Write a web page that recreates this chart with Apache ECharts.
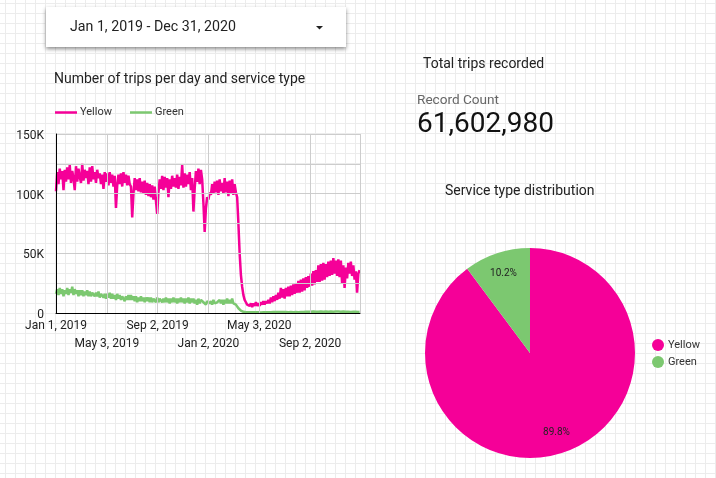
<!DOCTYPE html>
<html><head><meta charset="utf-8">
<script src="https://cdn.jsdelivr.net/npm/echarts@6/dist/echarts.min.js"></script>
<style>
html,body{margin:0;padding:0;width:716px;height:478px;overflow:hidden;background-color:#fff;
background-image:linear-gradient(#ececec 1px,transparent 1px),linear-gradient(90deg,#ececec 1px,transparent 1px);
background-size:10px 10px;background-position:5px 3px;}
#c{width:716px;height:478px}
</style></head><body><div id="c"></div>
<script>
const tickLabels=['Jan 1, 2019','May 3, 2019','Sep 2, 2019','Jan 2, 2020','May 3, 2020','Sep 2, 2020'];
const dayStep=3;
const yellowK=[
102,118,108,121,112,119,103,120,110,122,112,124,109,119,113,103,123,110,121,114,
109,125,111,120,113,119,108,122,110,123,112,118,109,120,113,117,108,116,104,118,
110,117,107,118,109,116,106,115,88,107,116,108,117,106,118,109,116,107,115,108,
106,80,100,113,103,112,102,113,101,110,100,111,99,109,98,108,97,107,95,106,
94,83,101,112,104,115,103,114,105,113,97,112,104,115,106,113,105,116,104,114,
107,124,105,117,106,116,108,118,103,113,85,104,119,110,121,108,120,112,92,68,
88,97,95,101,99,108,100,110,101,111,99,112,102,109,100,113,101,110,98,111,
100,112,99,108,101,97,75,50,32,22,15,11,9,7,8,6,8,5,8,6,
9,6,8,6,9,7,10,7,10,8,11,8,13,9,14,10,15,11,17,12,
21,13,20,12,21,14,22,14,23,15,24,16,25,17,27,17,28,18,29,19,
30,21,31,22,33,23,35,24,36,26,40,26,41,27,42,28,41,30,43,31,
44,32,46,33,44,31,45,30,44,25,40,21,38,29,42,33,43,31,40,28,
35,17,33,36];
const greenK=[
16,20,15,21,16,20,14,19,16,21,15,20,17,22,15,20,16,19,14,19,
15,19,14,18,15,19,14,18,14,17,16,14,17,14,18,13,16,15,13,16,
12,16,13,17,12,16,12,15,11,16,12,15,11,14,13,10,14,11,15,11,
15,11,14,10,14,9,13,10,14,10,13,9,13,10,13,9,13,9,12,11,
9,13,9,12,11,9,12,9,13,9,12,8,12,9,13,9,12,8,12,9,
13,9,12,8,12,9,13,8,12,9,12,8,11,7,12,8,11,12,9,8,
7,10,9,8,10,7,11,8,9,9,10,11,8,11,7,11,8,12,8,11,
8,12,8,8,7,6,4,3,2,1.5,1,.8,.6,.5,.6,.5,.7,.5,.6,.5,
.6,.5,.7,.6,.5,.7,.6,.8,.6,.7,.6,.8,.7,.6,.8,.6,.9,.7,.8,.6,
.8,.7,.9,.7,.8,.9,.7,1,.8,.9,.7,1,.8,.9,.7,1,.8,1.1,.8,.9,
1,.8,1.1,.9,1,.8,1.2,.9,1,.8,1.1,.9,1.2,1,1.1,.9,1.2,1,1.1,.9,
1.2,1,1.1,.9,1.3,1,1.2,.9,1.1,.9,1.2,1,1.1,.9,1,1.2,.9,1.1,1,.8,
1,.8,.9,1];
const pieNames=['Yellow','Green'];
const pieShares=[89.8,10.2];
const colors=['#f50098','#7cc870'];
const font='Roboto';
const toPts=a=>a.map((v,i)=>[i*dayStep,v]);
const txt=(x,y,text,size,fill)=>({type:'text',left:x,top:y,silent:true,style:{text,font:size+'px '+font,fill}});
const rowLabel=(row)=>(v)=>{const k=Math.round(v/122);return (k%2===row&&tickLabels[k])?tickLabels[k]:'';};
const xBase={type:'value',min:0,max:730,interval:122,position:'bottom'};
const chart=echarts.init(document.getElementById('c'),null,{renderer:'canvas'});
chart.setOption({
 animation:false,backgroundColor:'transparent',textStyle:{fontFamily:font},
 color:colors,
 grid:{left:56,top:134,right:356,bottom:165},
 xAxis:[
  {...xBase,z:5,
   axisLine:{show:true,onZero:false,lineStyle:{color:'#000',width:1}},axisTick:{show:false},
   splitLine:{show:true,showMinLine:false,lineStyle:{color:'#cccccc',width:1}},
   axisLabel:{color:'#222',fontSize:12,fontFamily:font,margin:7,showMinLabel:true,showMaxLabel:false,hideOverlap:false,formatter:rowLabel(0)}},
  {...xBase,
   axisLine:{show:false},axisTick:{show:false},splitLine:{show:false},
   axisLabel:{color:'#222',fontSize:12,fontFamily:font,margin:25,showMinLabel:false,showMaxLabel:false,hideOverlap:false,formatter:rowLabel(1)}}
 ],
 yAxis:{type:'value',min:0,max:150,interval:50,z:5,
  axisLine:{show:true,lineStyle:{color:'#000',width:1}},axisTick:{show:false},
  splitLine:{show:true,showMinLine:false,lineStyle:{color:'#cccccc',width:1}},
  minorTick:{show:false,splitNumber:2},minorSplitLine:{show:true,lineStyle:{color:'#cccccc',width:1}},
  axisLabel:{margin:12,showMinLabel:true,formatter:v=>'{a|'+(v===0?'0':v+'K')+'}',
   rich:{a:{color:'#222',fontSize:12,fontFamily:font,height:16,lineHeight:12,verticalAlign:'top'}}}},
 legend:[{left:50,top:102,itemWidth:22,itemHeight:2.5,itemGap:18,icon:'rect',data:['Yellow','Green'],selectedMode:false,
   textStyle:{color:'#333',fontSize:11,fontFamily:font,padding:[0,0,0,-2]}},
  {left:647,top:334,orient:'vertical',itemWidth:12,itemHeight:12,itemGap:5,icon:'circle',data:['Yellow','Green'],selectedMode:false,
   textStyle:{color:'#333',fontSize:11,fontFamily:font,padding:[0,0,0,-1]}}],
 series:[
  {name:'Yellow',type:'line',data:toPts(yellowK),showSymbol:false,smooth:false,lineStyle:{color:colors[0],width:2.5},itemStyle:{color:colors[0]}},
  {name:'Green',type:'line',data:toPts(greenK),showSymbol:false,smooth:false,lineStyle:{color:colors[1],width:2.5},itemStyle:{color:colors[1]}},
  {type:'pie',center:[530,353],radius:[0,105],startAngle:90,clockwise:true,
   data:pieNames.map((n,i)=>({name:n,value:pieShares[i],itemStyle:{color:colors[i]}})),
   label:{position:'inside',formatter:'{d}%',color:'#222',fontSize:10,fontFamily:font},
   labelLayout:p=>p.dataIndex===0?{dx:9,dy:27}:{dx:-9,dy:-27},
   labelLine:{show:false},silent:true}
 ],
 graphic:[
  {type:'rect',shape:{x:46,y:7,width:300,height:40},silent:true,
   style:{fill:'#fff',shadowBlur:4,shadowColor:'rgba(0,0,0,0.45)',shadowOffsetY:1.5}},
  txt(70,20,'Jan 1, 2019 - Dec 31, 2020',14.2,'#222'),
  {type:'polygon',shape:{points:[[316,26],[323,26],[319.5,29.5]]},silent:true,style:{fill:'#222'}},
  txt(54,72,'Number of trips per day and service type',14,'#222'),
  txt(423,57,'Total trips recorded',14,'#222'),
  txt(417,94,'Record Count',13.6,'#666'),
  txt(417,111,'61,602,980',28,'#111'),
  txt(445,184,'Service type distribution',14,'#222')
 ]
});
</script></body></html>
